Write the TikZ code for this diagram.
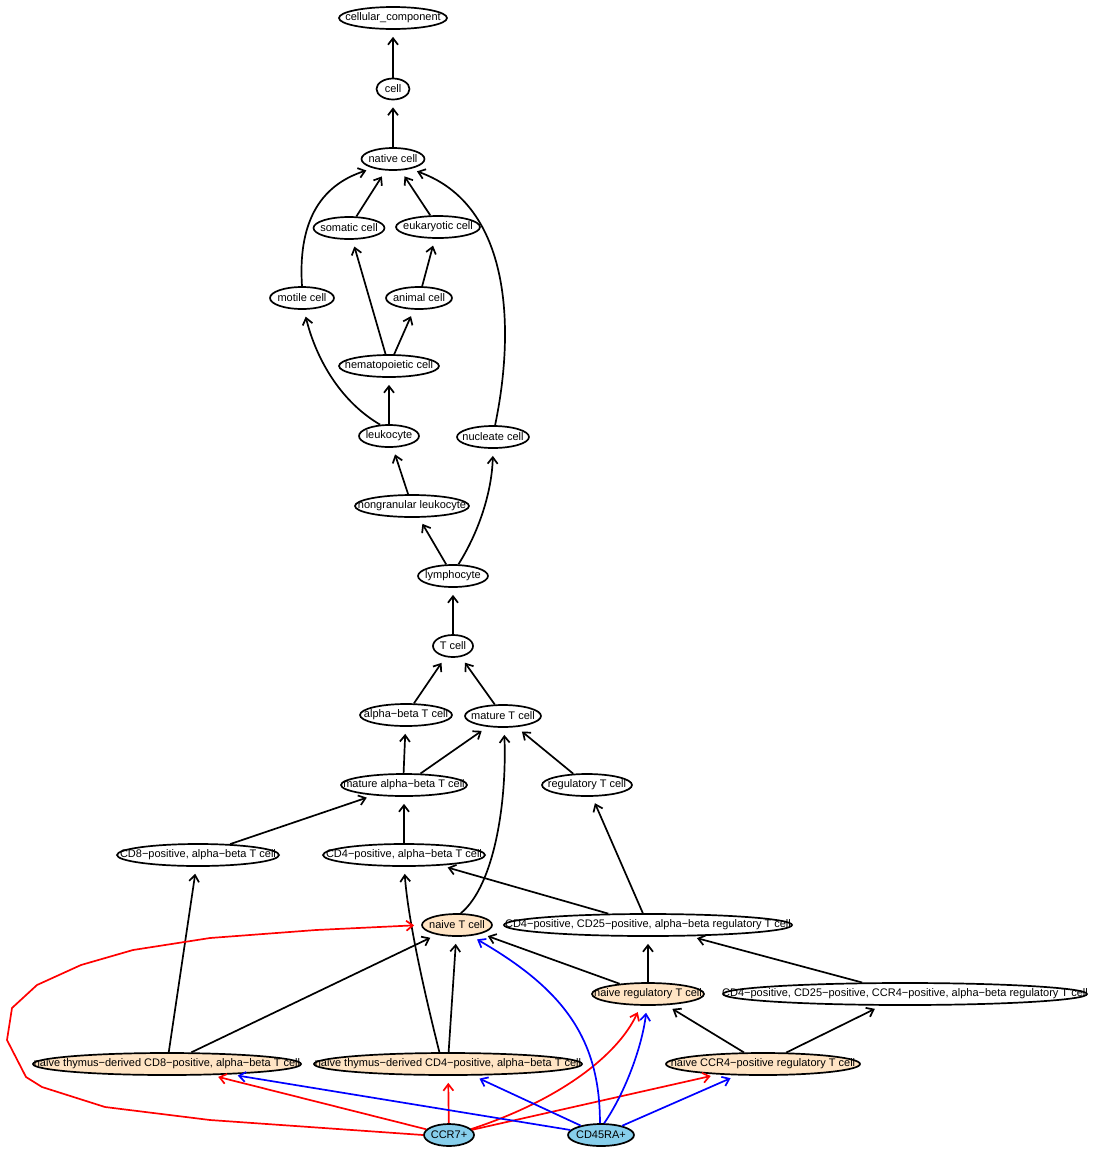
\documentclass[tikz,border=0pt]{standalone}
\usepackage{fontspec}
\setmainfont{Liberation Sans}
\usetikzlibrary{shapes.geometric,arrows.meta}
\definecolor{bisque}{RGB}{255,228,196}
\definecolor{skyb}{RGB}{135,206,235}
\newcommand\lbl[1]{\makebox[0pt]{#1}}
\tikzset{
  n/.style={ellipse, draw=black, line width=1.7pt, inner sep=0pt, minimum height=22pt,
    font=\fontsize{11}{13}\selectfont, fill=white},
  nv/.style={n, fill=bisque},
  mk/.style={n, fill=skyb},
  e/.style={line width=1.7pt, -{Straight Barb[length=6.5pt,width=10pt]}, shorten >=7pt},
  er/.style={e, draw=red},
  eb/.style={e, draw=blue},
}
\begin{document}
\begin{tikzpicture}[x=1pt,y=-1pt]
\useasboundingbox[fill=white] (0,0) rectangle (1095,1152);
% nodes
\node[n, minimum width=108pt] (cc) at (393,18) {\lbl{cellular\_component}};
\node[n, minimum width=33pt, minimum height=21pt] (cell) at (393,89) {\lbl{cell}};
\node[n, minimum width=63pt] (native) at (393,159) {\lbl{native cell}};
\node[n, minimum width=71pt] (somatic) at (349,228) {\lbl{somatic cell}};
\node[n, minimum width=84pt] (euk) at (438,227) {\lbl{eukaryotic cell}};
\node[n, minimum width=64pt] (motile) at (302,298) {\lbl{motile cell}};
\node[n, minimum width=66pt] (animal) at (419,298) {\lbl{animal cell}};
\node[n, minimum width=100pt] (hema) at (389,366) {\lbl{hematopoietic cell}};
\node[n, minimum width=60pt] (leuk) at (389,436) {\lbl{leukocyte}};
\node[n, minimum width=72pt] (nucl) at (493,437) {\lbl{nucleate cell}};
\node[n, minimum width=114pt] (nongran) at (412,506) {\lbl{nongranular leukocyte}};
\node[n, minimum width=70pt] (lymph) at (453,576) {\lbl{lymphocyte}};
\node[n, minimum width=40pt] (tcell) at (453,646) {\lbl{T cell}};
\node[n, minimum width=92pt] (ab) at (406,715) {\lbl{alpha−beta T cell}};
\node[n, minimum width=76pt] (mature) at (503,716) {\lbl{mature T cell}};
\node[n, minimum width=126pt] (matab) at (404,785) {\lbl{mature alpha−beta T cell}};
\node[n, minimum width=90pt] (reg) at (587,785) {\lbl{regulatory T cell}};
\node[n, minimum width=162pt] (cd8ab) at (198,855) {\lbl{CD8−positive, alpha−beta T cell}};
\node[n, minimum width=162pt] (cd4ab) at (404,855) {\lbl{CD4−positive, alpha−beta T cell}};
\node[nv, minimum width=70pt] (naivet) at (457,925) {\lbl{naive T cell}};
\node[n, minimum width=288pt] (cd25reg) at (648,925) {\lbl{CD4−positive, CD25−positive, alpha−beta regulatory T cell}};
\node[nv, minimum width=112pt] (naivereg) at (648,994) {\lbl{naive regulatory T cell}};
\node[n, minimum width=364pt] (ccr4reg) at (905,994) {\lbl{CD4−positive, CD25−positive, CCR4−positive, alpha−beta regulatory T cell}};
\node[nv, minimum width=268pt] (ncd8) at (167,1064) {\lbl{naive thymus−derived CD8−positive, alpha−beta T cell}};
\node[nv, minimum width=268pt] (ncd4) at (448,1064) {\lbl{naive thymus−derived CD4−positive, alpha−beta T cell}};
\node[nv, minimum width=194pt] (nccr4) at (763,1064) {\lbl{naive CCR4−positive regulatory T cell}};
\node[mk, minimum width=50pt] (ccr7) at (449,1135) {\lbl{CCR7+}};
\node[mk, minimum width=66pt] (cd45) at (601,1135) {\lbl{CD45RA+}};
% black edges
\draw[e] (cell) -- (cc);
\draw[e] (native) -- (cell);
\draw[e] (somatic) -- (native);
\draw[e] (euk) -- (native);
\draw[e] (motile.north) .. controls (298,225) and (318,186) .. (native.205);
\draw[e] (nucl.80) .. controls (515,330) and (512,205) .. (native.-30);
\draw[e] (animal) -- (euk);
\draw[e] (hema) -- (somatic);
\draw[e] (hema) -- (animal);
\draw[e] (leuk) -- (hema);
\draw[e] (leuk.128) .. controls (338,400) and (315,355) .. (motile.-80);
\draw[e] (nongran) -- (leuk);
\draw[e] (lymph) -- (nongran);
\draw[e] (lymph.65) .. controls (480,530) and (492,490) .. (nucl.south);
\draw[e] (tcell) -- (lymph);
\draw[e] (ab) -- (tcell);
\draw[e] (mature) -- (tcell);
\draw[e] (matab.92) -- (ab);
\draw[e] (matab) -- (mature);
\draw[e] (reg) -- (mature);
\draw[e] (cd8ab) -- (matab);
\draw[e] (cd4ab) -- (matab);
\draw[e] (naivet.72) .. controls (495,885) and (507,800) .. (mature.-85);
\draw[e] (cd25reg) -- (cd4ab);
\draw[e] (cd25reg) -- (reg);
\draw[e] (naivereg) -- (naivet);
\draw[e] (naivereg) -- (cd25reg);
\draw[e] (ccr4reg) -- (cd25reg);
\draw[e] (ncd8) -- (cd8ab);
\draw[e] (ncd8) -- (naivet);
\draw[e] (ncd4.87) -- (naivet);
\draw[e] (ncd4.126) .. controls (425,995) and (408,920) .. (cd4ab.-89);
\draw[e] (nccr4) -- (naivereg);
\draw[e] (nccr4) -- (ccr4reg);
% red edges
\draw[er] (ccr7) -- (ncd8);
\draw[er] (ccr7) -- (ncd4);
\draw[er] (ccr7.15) .. controls (560,1100) and (618,1055) .. (naivereg.-122);
\draw[er] (ccr7) -- (nccr4.193);
\draw[er] (ccr7.west) -- (210,1120) -- (105,1107) -- (42,1087) -- (26,1077) -- (7,1040)
   -- (12,1008) -- (37,985) -- (81,965) -- (133,950) -- (210,938) -- (316,930) -- (naivet.west);
% blue edges
\draw[eb] (cd45) -- (ncd8);
\draw[eb] (cd45) -- (ncd4);
\draw[eb] (cd45.95) .. controls (600,1040) and (565,990) .. (naivet.-38);
\draw[eb] (cd45.75) .. controls (625,1093) and (642,1047) .. (naivereg.-95);
\draw[eb] (cd45) -- (nccr4);
\end{tikzpicture}
\end{document}
